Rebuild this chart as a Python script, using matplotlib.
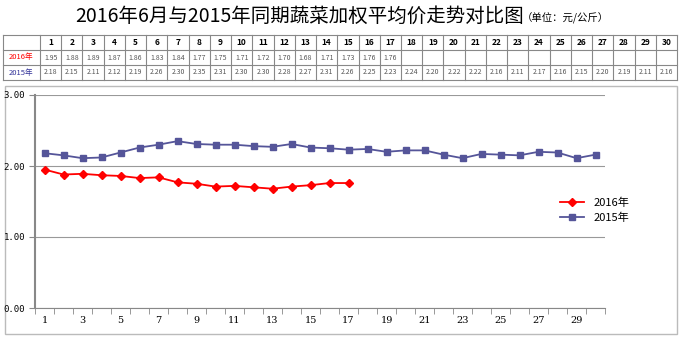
import numpy as np
import matplotlib
matplotlib.use("Agg")
import matplotlib.pyplot as plt
from matplotlib.patches import Rectangle

plt.rcParams['font.family'] = ['Noto Sans CJK SC', 'DejaVu Sans']

days = list(range(1, 31))
price_2016 = [1.95, 1.88, 1.89, 1.87, 1.86, 1.83, 1.84, 1.77, 1.75, 1.71,
              1.72, 1.70, 1.68, 1.71, 1.73, 1.76, 1.76]
price_2015 = [2.18, 2.15, 2.11, 2.12, 2.19, 2.26, 2.30, 2.35, 2.31, 2.30,
              2.30, 2.28, 2.27, 2.31, 2.26, 2.25, 2.23, 2.24, 2.20, 2.22,
              2.22, 2.16, 2.11, 2.17, 2.16, 2.15, 2.20, 2.19, 2.11, 2.16]
series_names = ['2016年', '2015年']
y_ticks = [0.0, 1.0, 2.0, 3.0]
x_tick_labels = [str(d) for d in days[::2]]

W, H = 680, 339
red = '#FF0000'
blue = '#555599'

fig = plt.figure(figsize=(W / 100, H / 100), dpi=100)
fig.patch.set_facecolor('white')


def fx(px):
    return px / W


def fy(py):
    return 1 - py / H


# title
fig.text(fx(75), fy(16), '2016年6月与2015年同期蔬菜加权平均价走势对比图',
         fontsize=14, va='center', ha='left')
fig.text(fx(522), fy(18), '（单位：元/公斤）', fontsize=7.5, va='center', ha='left')

# table on an overlay axes in pixel coordinates
tab = fig.add_axes([0, 0, 1, 1])
tab.set_xlim(0, W)
tab.set_ylim(H, 0)
tab.axis('off')

t_left, t_first, t_right = 3, 40, 677
t_rows = [35, 50, 65, 80]
col_w = (t_right - t_first) / len(days)
for y in t_rows:
    tab.plot([t_left, t_right], [y, y], color='#888888', lw=0.8)
tab.plot([t_left, t_left], [t_rows[0], t_rows[-1]], color='#888888', lw=0.8)
for i in range(len(days) + 1):
    x = t_first + i * col_w
    tab.plot([x, x], [t_rows[0], t_rows[-1]], color='#888888', lw=0.8)

row_mid = [(t_rows[i] + t_rows[i + 1]) / 2 for i in range(3)]
tab.text((t_left + t_first) / 2, row_mid[1], series_names[0], color=red,
         fontsize=5.5, ha='center', va='center')
tab.text((t_left + t_first) / 2, row_mid[2], series_names[1], color='#333399',
         fontsize=5.5, ha='center', va='center')
for i, d in enumerate(days):
    cx = t_first + (i + 0.5) * col_w
    tab.text(cx, row_mid[0], str(d), fontsize=6, fontweight='bold',
             ha='center', va='center')
    if i < len(price_2016):
        tab.text(cx, row_mid[1], f'{price_2016[i]:.2f}', fontsize=5,
                 color='#555555', ha='center', va='center')
    tab.text(cx, row_mid[2], f'{price_2015[i]:.2f}', fontsize=5,
             color='#555555', ha='center', va='center')

# chart border
tab.add_patch(Rectangle((5, 86), 672, 248, fill=False, ec='#BBBBBB', lw=1))

# main chart
ax = fig.add_axes([fx(35), fy(308), fx(605) - fx(35), fy(95) - fy(308)])
ax.set_facecolor('none')
ax.plot(days[:len(price_2016)], price_2016, color=red, marker='D',
        markersize=4, lw=1.3, label=series_names[0])
ax.plot(days, price_2015, color=blue, marker='s', markersize=5,
        lw=1.3, label=series_names[1])

ax.set_xlim(0.5, 30.5)
ax.set_ylim(0, 3)
ax.set_yticks(y_ticks)
ax.set_yticklabels([f'{v:.2f}' for v in y_ticks], fontsize=6.5,
                   family='DejaVu Sans Mono')
ax.set_xticks(days[::2])
ax.set_xticklabels(x_tick_labels, fontsize=7, family='DejaVu Serif')
ax.set_xticks(np.arange(0.5, 31, 1), minor=True)
ax.tick_params(axis='x', which='major', length=0, pad=6)
ax.tick_params(axis='x', which='minor', length=4, color='#888888')
ax.tick_params(axis='y', length=4, color='#888888', pad=3)
ax.grid(axis='y', color='#999999', lw=0.8)
for s in ['top', 'right']:
    ax.spines[s].set_visible(False)
ax.spines['left'].set_color('#888888')
ax.spines['left'].set_linewidth(1.5)
ax.spines['bottom'].set_color('#888888')
ax.set_axisbelow(True)

ax.legend(loc='center left', bbox_to_anchor=(fx(550), fy(210)),
          bbox_transform=fig.transFigure, frameon=False, fontsize=8,
          handlelength=2.2, labelspacing=0.4)

fig.savefig('out.png', dpi=100)
